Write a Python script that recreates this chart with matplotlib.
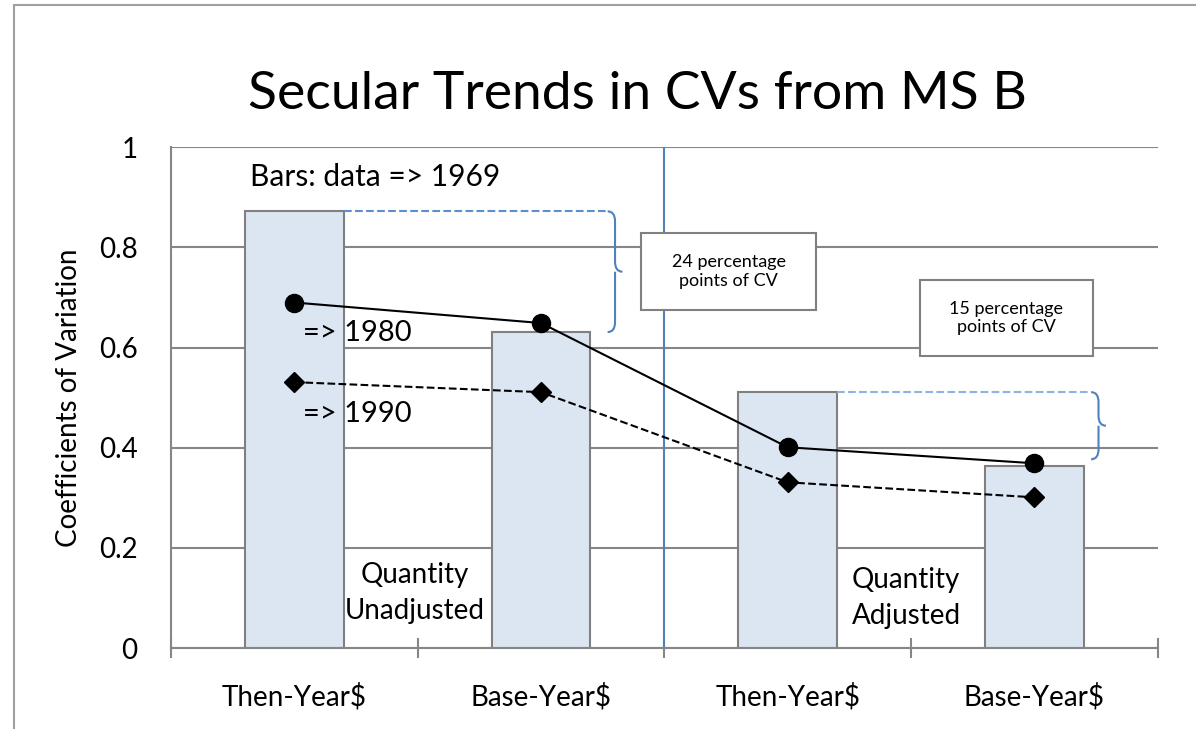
import matplotlib.pyplot as plt
from matplotlib.patches import Rectangle, PathPatch
from matplotlib.path import Path

plt.rcParams['font.family'] = ['Lato', 'DejaVu Sans']

categories = ['Then-Year$', 'Base-Year$', 'Then-Year$', 'Base-Year$']
bars_1969 = [0.872, 0.631, 0.511, 0.363]
cv_1980 = [0.690, 0.649, 0.401, 0.369]
cv_1990 = [0.531, 0.511, 0.331, 0.301]

grey = '#868686'
blue = '#4F81BD'

fig = plt.figure(figsize=(11.96, 7.29), dpi=100)
ax = fig.add_axes([0.143, 0.111, 0.825, 0.687])

# outer chart border (cropped at right / bottom)
fig.patches.append(Rectangle((0.012, -0.1), 1.2, 1.093, transform=fig.transFigure,
                             fill=False, edgecolor='#A0A0A0', lw=1.5))

x = range(len(categories))
ax.bar(x, bars_1969, width=0.4, color='#DCE6F2', edgecolor='#808080', lw=1.5, zorder=2)
ax.plot(x, cv_1980, color='black', lw=1.5, marker='o', markersize=13, zorder=4)
ax.plot(x, cv_1990, color='black', lw=1.5, ls='--', marker='D', markersize=10, zorder=4)

ax.set_xlim(-0.5, 3.5)
ax.set_ylim(0, 1)
ax.set_yticks([0, 0.2, 0.4, 0.6, 0.8, 1])
ax.set_yticklabels(['0', '0.2', '0.4', '0.6', '0.8', '1'])
ax.yaxis.grid(True, color=grey, lw=1.5, zorder=0)
ax.set_axisbelow(True)
ax.tick_params(axis='y', length=0, pad=24, labelsize=20)
ax.set_xticks(list(x))
ax.set_xticklabels(categories)
ax.tick_params(axis='x', which='major', length=0, pad=25, labelsize=20)
ax.set_xticks([-0.5, 0.5, 1.5, 2.5, 3.5], minor=True)
ax.tick_params(axis='x', which='minor', direction='inout', length=14, width=1.5, color=grey)
for s in ['top', 'right']:
    ax.spines[s].set_visible(False)
ax.spines['left'].set_color(grey)
ax.spines['left'].set_linewidth(1.5)
ax.spines['bottom'].set_color(grey)
ax.spines['bottom'].set_linewidth(1.5)

ax.set_ylabel('Coefficients of Variation', fontsize=20, labelpad=12)
fig.text(0.533, 0.87, 'Secular Trends in CVs from MS B', fontsize=38.5, ha='center', va='center')

ax.axvline(1.5, color=blue, lw=1.5, zorder=1)

ax.text(-0.18, 0.94, 'Bars: data => 1969', fontsize=21.5, va='center')
ax.text(0.035, 0.63, '=> 1980', fontsize=21, va='center')
ax.text(0.035, 0.467, '=> 1990', fontsize=21, va='center')
ax.text(0.49, 0.11, 'Quantity\nUnadjusted', fontsize=20, ha='center', va='center', linespacing=1.45)
ax.text(2.48, 0.1, 'Quantity\nAdjusted', fontsize=20, ha='center', va='center', linespacing=1.45)


def brace(x0, x1, ytop, ybot, color, dash_color):
    ax.plot([x0, x1], [ytop, ytop], ls='--', color=dash_color, lw=1.5, zorder=3)
    d = 0.03
    e = 0.02
    ym = (ytop + ybot) / 2
    verts = [(x1, ytop), (x1 + d, ytop), (x1 + d, ytop - e),
             (x1 + d, ym + e),
             (x1 + d, ym), (x1 + 2 * d, ym),
             (x1 + d, ym), (x1 + d, ym - e),
             (x1 + d, ybot + e),
             (x1 + d, ybot), (x1, ybot)]
    codes = [Path.MOVETO, Path.CURVE3, Path.CURVE3, Path.LINETO,
             Path.CURVE3, Path.CURVE3, Path.MOVETO, Path.CURVE3,
             Path.LINETO, Path.CURVE3, Path.CURVE3]
    ax.add_patch(PathPatch(Path(verts, codes), fill=False, edgecolor=color, lw=1.5, zorder=3))


brace(0.2, 1.27, bars_1969[0], bars_1969[1], blue, '#5B8FD0')
brace(2.2, 3.23, bars_1969[2], 0.377, blue, '#8DB3E2')

ax.add_patch(Rectangle((1.405, 0.675), 0.71, 0.153, facecolor='white',
                       edgecolor='#808080', lw=1.5, zorder=5))
ax.text(1.76, 0.752, '24 percentage\npoints of CV', fontsize=13, ha='center', va='center', zorder=6)
ax.add_patch(Rectangle((2.536, 0.583), 0.70, 0.152, facecolor='white',
                       edgecolor='#808080', lw=1.5, zorder=5))
ax.text(2.886, 0.659, '15 percentage\npoints of CV', fontsize=13, ha='center', va='center', zorder=6)

fig.savefig('out.png', dpi=100)
